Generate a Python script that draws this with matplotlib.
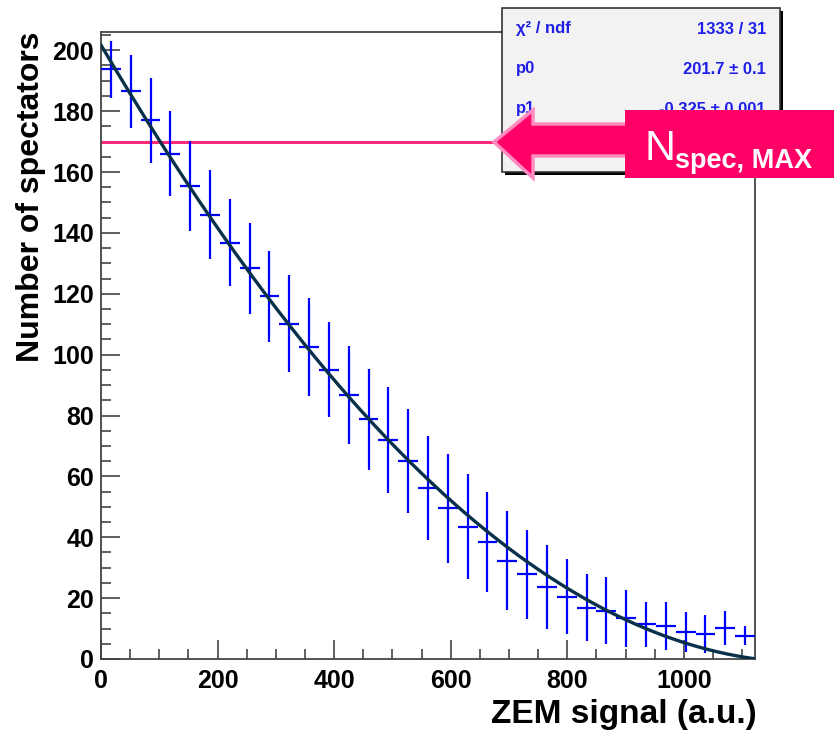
import matplotlib.pyplot as plt
import matplotlib.patches as mpatches
from matplotlib.ticker import MultipleLocator
import numpy as np

plt.rcParams['font.family'] = ['Liberation Sans', 'DejaVu Sans']

# histogram binning (33 bins between 0 and 1122)
x_min, x_max = 0, 1122
n_bins = 33
y_max = 206

# spectators per bin and their errors
counts = [193.7, 186.5, 177.0, 166.0, 155.3, 146.0, 136.7, 128.3, 119.2, 110.2,
          102.6, 95.0, 86.8, 78.8, 71.9, 65.0, 56.2, 49.5, 43.5, 38.5,
          32.3, 27.8, 23.7, 20.5, 16.8, 15.8, 13.4, 11.4, 10.8, 9.0,
          8.1, 10.1, 7.7]
errors = [9.3, 12.0, 14.0, 14.0, 14.8, 14.7, 14.3, 14.8, 14.9, 15.9,
          16.1, 15.6, 16.1, 16.6, 17.4, 17.0, 17.0, 17.8, 17.3, 16.5,
          16.3, 14.7, 13.7, 12.4, 11.0, 11.0, 9.4, 7.3, 8.0, 6.6,
          6.2, 5.6, 3.2]

# polynomial fit parameters
fit_params = [201.7, -0.325, 1.222e-4, 6.5e-9]
n_spec_max = 170

stats_rows = [("χ² / ndf", "1333 / 31"), ("p0", "201.7 ± 0.1"), ("p1", "-0.325 ± 0.001")]

W, H = 834, 732
fig = plt.figure(figsize=(W / 100, H / 100), dpi=100)
ax = fig.add_axes([101 / W, 1 - 659 / H, 654 / W, 627 / H])


def fp(x, y):
    # pixel position (from top-left) -> figure fraction
    return x / W, 1 - y / H


edges = np.linspace(x_min, x_max, n_bins + 1)
centers = (edges[:-1] + edges[1:]) / 2
half_w = (edges[1] - edges[0]) / 2

ax.errorbar(centers, counts, xerr=half_w, yerr=errors, fmt='none',
            ecolor='#0000ff', elinewidth=1.6, capsize=0, zorder=3)

xf = np.linspace(x_min, x_max, 500)
yf = np.polyval(fit_params[::-1], xf)
ax.plot(xf, yf, color='#08304a', lw=2.4, zorder=4)

ax.plot([0, 700], [n_spec_max, n_spec_max], color='#ff2a78', lw=2.2, zorder=2)

ax.set_xlim(x_min, x_max)
ax.set_ylim(0, y_max)
ax.xaxis.set_major_locator(MultipleLocator(200))
ax.xaxis.set_minor_locator(MultipleLocator(50))
ax.yaxis.set_major_locator(MultipleLocator(20))
ax.yaxis.set_minor_locator(MultipleLocator(5))
ax.tick_params(which='both', direction='in', color='#444444', width=1.2)
ax.tick_params(which='major', length=14)
ax.tick_params(which='minor', length=7)
ax.tick_params(axis='y', labelsize=18, pad=5)
ax.tick_params(axis='x', labelsize=18, pad=7)
for lab in ax.get_xticklabels() + ax.get_yticklabels():
    lab.set_fontweight('bold')
for sp in ax.spines.values():
    sp.set_color('#444444')
    sp.set_linewidth(1.3)

fig.text(*fp(31, 32), "Number of spectators", rotation=90, ha='center', va='top',
         fontsize=23, fontweight='bold')
fig.text(*fp(757, 714), "ZEM signal (a.u.)", ha='right', va='center',
         fontsize=24, fontweight='bold')

# stats box
bx0, by0, bx1, by1 = 502, 8, 780, 172
shadow = mpatches.Rectangle(fp(bx0 + 3, by1 + 3), (bx1 - bx0) / W, (by1 - by0) / H,
                            transform=fig.transFigure, facecolor='black', edgecolor='none', zorder=5)
box = mpatches.Rectangle(fp(bx0, by1), (bx1 - bx0) / W, (by1 - by0) / H,
                         transform=fig.transFigure, facecolor='#f2f2f2', edgecolor='#333333',
                         lw=1.2, zorder=6)
fig.add_artist(shadow)
fig.add_artist(box)
for i, (name, val) in enumerate(stats_rows):
    yrow = 29 + i * 40
    fig.text(*fp(516, yrow), name, ha='left', va='center', fontsize=12,
             fontweight='bold', color='#1e1ee6', zorder=7)
    fig.text(*fp(766, yrow), val, ha='right', va='center', fontsize=12,
             fontweight='bold', color='#1e1ee6', zorder=7)

# N_spec,MAX arrow and label
arrow_pts = [(494, 142), (533, 110), (533, 124), (630, 124), (630, 156), (533, 156), (533, 178)]
arrow = mpatches.Polygon([fp(x, y) for x, y in arrow_pts], closed=True,
                         transform=fig.transFigure, facecolor='#ff0066',
                         edgecolor='#ff8cc0', lw=2.5, zorder=8)
fig.add_artist(arrow)
label_box = mpatches.Rectangle(fp(625, 178), (W - 625) / W, 68 / H, transform=fig.transFigure,
                               facecolor='#ff0066', edgecolor='none', zorder=9)
fig.add_artist(label_box)
fig.text(*fp(645, 160), "N", ha='left', va='baseline', fontsize=31, color='white', zorder=10)
fig.text(*fp(675, 168), "spec, MAX", ha='left', va='baseline', fontsize=19.5,
         fontweight='bold', color='white', zorder=10)

fig.savefig("out.png", dpi=100)
